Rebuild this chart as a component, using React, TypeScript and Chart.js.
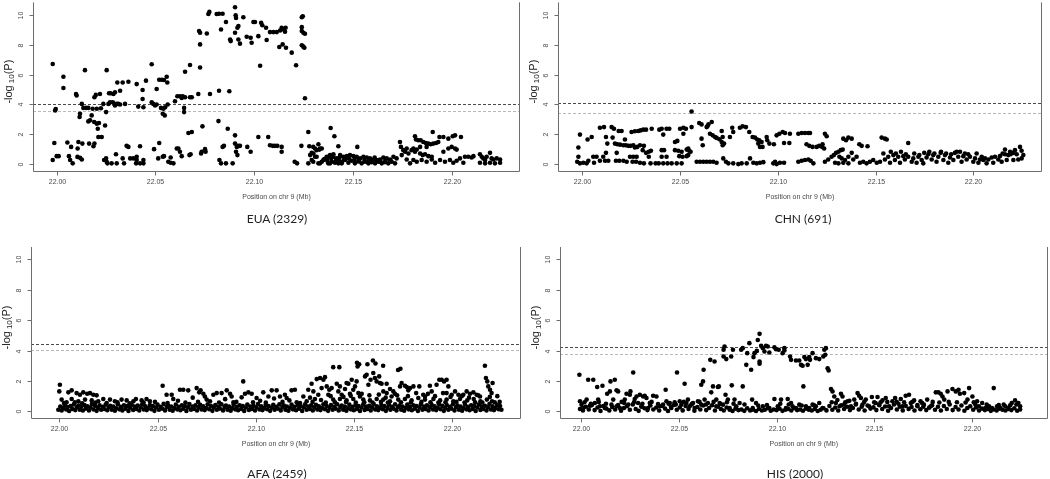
import React, { useEffect, useRef } from "react";
import { Chart, registerables } from "chart.js";

Chart.register(...registerables);

// ---------------- data ----------------
const REGION_START_MB = 22.0; // positions below are kb offsets from 22.000 Mb
const xTickValues = [22.0, 22.05, 22.1, 22.15, 22.2];
const yTickValues = [0, 2, 4, 6, 8, 10];
const xAxisTitle = "Position on chr 9 (Mb)";
const panelTitles = ["EUA (2329)", "CHN (691)", "AFA (2459)", "HIS (2000)"];

// [dark threshold, light threshold] in -log10(P)
const euaThresholds = [4.04, 3.58];
const chnThresholds = [4.1, 3.42];
const afaThresholds = [4.42, 4.05];
const hisThresholds = [4.22, 3.79];

// [kb offset, -log10(P)]
const euaSnps = [
[-2,6.7],[-0.8,3.6],[-0.5,3.7],[-1.2,1.43],[-2,0.29],[0,0.55],[1,0.55],
[3.4,5.85],[3.4,5.1],[5.4,1.46],[6.2,0.55],[6.8,0.29],[8.1,0.07],[7.3,1.17],
[9.8,4.7],[10.1,4.6],[11,1.5],[10.6,1.06],[10.5,0.5],[11.8,0.44],[12.7,0.33],
[11.8,3.38],[11.6,3.16],[12.7,4.04],[13.5,3.77],[14.3,6.29],[14.9,3.77],[16,3.77],
[13,1.39],[16.4,1.39],[18.6,1.21],[19.1,1.39],
[16,2.87],[16.9,2.94],[17.7,3.27],[18.2,3.71],[19.1,4.48],[19.8,4.64],[20.3,3.71],
[19,2.83],[20.3,2.72],[20.8,2.38],[21.4,2.76],[21.9,4.7],[22.4,3.75],[21.1,1.83],[22.8,1.83],
[23.6,4.04],[24.5,2.6],[24,0.29],[25,0.4],[25.3,0.18],[25.7,0.07],[25.3,6.29],[25,3.49],
[26.5,4.75],[27.3,4.75],[28.7,4.7],[29.5,4.81],[26.2,4.04],[27,4.15],[28.4,4.15],[29.2,4.04],[29.5,3.93],
[27.8,0.07],[30,0.68],[30.4,0.07],
[30.7,5.47],[32.1,4.92],[33.4,5.47],[36.3,5.52],[30.4,4.04],[31.2,4.04],[32.1,4.0],[34.6,4.04],
[35.4,1.24],[36.3,1.17],[33.4,0.4],[34.1,0.07],[37.2,0.4],[38.8,0.4],[40.5,0.51],[42.2,1.21],[40.5,0.29],[40.2,0.07],[43.9,0.29],[43.9,0.07],[42.2,0.07],
[40.5,5.36],[43.5,4.97],[45.2,5.59],[43.5,4.37],[41.3,3.86],[43.9,3.82],
[48.1,6.69],[48.9,4.04],[48.1,4.15],[49.8,3.93],[50.6,4.0],[50.6,5.03],
[49.3,1.02],[51.9,1.43],[51.4,0.4],[53.7,0.51],[54.3,0.55],
[51.9,5.65],[53.2,5.65],[54.3,5.63],[55.7,5.85],[56,5.47],
[52.8,3.77],[54,3.71],[54.9,3.82],[56.2,4.0],[53.7,3.38],[54.7,3.27],
[56.5,0.18],[57.7,0.11],[59.1,0.07],[57.7,0.46],
[59.9,4.22],[61.1,4.55],[62.4,4.55],[63.8,4.55],[63.3,4.44],[65,4.48],[67.5,4.48],[68.4,4.48],
[64.5,3.77],[64.5,3.49],[65,6.18],[67.5,6.64],
[60.8,1.06],[61.6,1.06],[62.4,0.84],[63.3,0.55],[66.7,2.1],[68.4,2.16],[67.2,0.62],[67.8,0.68],
[71.7,4.7],[72.6,6.47],[72.6,8.01],[72.1,8.9],[72.6,8.79],[73.8,2.54],
[73.4,0.84],[75.1,1.02],[75.4,0.84],[73.1,0.73],
[76.8,10.04],[77.3,10.18],[76,8.74],[77.6,4.7],
[81,10.04],[82.2,10.06],[84,10.06],[83.2,9.0],[85.7,9.51],[82.2,4.92],[87.4,4.88],
[81.9,2.89],[86.6,2.38],[82.4,0.29],[83.2,0.07],[84,1.17],[84.7,1.24],[85.7,0.07],[89.1,0.07],
[87.8,8.34],[88.1,8.23],[90.3,10.49],[90.6,9.96],[90.8,9.78],[90.3,8.79],[91.5,9.12],[92,9.23],[92,8.34],[92.8,8.06],
[94.5,9.82],[96.2,8.52],[98.2,8.45],[98.7,8.12],[99.6,9.51],[100.4,9.51],[102.1,8.56],[103.5,9.45],[104.1,9.29],
[106,9.12],[106.3,8.3],[108,8.83],[109.7,8.83],[111.4,8.83],[113.1,8.94],[113.9,9.12],[114.8,9.0],[115.9,9.12],[115.6,8.85],
[112.7,7.84],[114.4,8.01],[116.1,7.79],[119,7.46],[121.2,6.62],[103,6.58],
[90.3,1.94],[90.3,1.39],[91.2,1.17],[92,1.24],[92.8,1.24],[90.8,0.84],[91.5,0.62],[96.5,1.17],[98.2,0.84],
[102.1,1.83],[107.1,1.83],[108,1.28],[109.4,1.24],[110.5,1.24],[111.7,1.24],[113.9,1.17],[113.9,0.84],[120.5,0.18],[121.7,0.07],[123.9,1.24],
[124.1,9.82],[124.6,9.89],[124.1,9.16],[124.1,8.9],[124.9,8.79],[125.7,8.72],[124.1,7.95],[124.9,7.86],[125.4,7.79],[125.7,4.42],
[127.4,2.16],[127.9,1.21],[127.4,0.07],[128.3,0.62],[129.1,0.77],[129.9,1.17],[130.8,0.51],[131.6,0.95],[132.5,1.35],[133,0.99],
[134.2,1.06],[133.3,0.07],[129.9,0.18],[135,0.29],[138.7,2.43],[140.6,1.88],[142.6,1.21],[137.6,0.51],[140.1,0.51],[141.8,0.4],
[143.5,0.62],[145.1,0.51],[146.8,0.46],[138.4,0.07],[141,0.18],[142.6,0.07],[144.3,0.18],[146,0.29],[147.7,0.11],
[130,0.73],[130.8,1.06],[133.3,1.06],[131.6,0.51],[129.1,0.29],[132.5,0.07],[134.2,0.18],
[136.7,0.51],[138.4,0.62],[140.1,0.68],[143.5,0.55],[146.8,0.55],[148.5,0.62],[150.2,0.55],[151.9,0.51],[153.6,0.4],[155.3,0.51],
[157,0.46],[158.6,0.4],[160.3,0.33],[162,0.29],[163.7,0.33],[165.4,0.46],[167.1,0.4],[168.8,0.33],[170.5,0.51],[172.1,0.4],
[137.5,0.07],[139.2,0.18],[140.9,0.11],[142.6,0.24],[144.3,0.07],[149.4,0.24],[151,0.07],[152.7,0.2],[154.4,0.07],[156.1,0.18],
[157.8,0.07],[159.5,0.15],[161.2,0.07],[162.9,0.18],[164.6,0.07],[166.2,0.15],[167.9,0.07],[169.6,0.18],[171.3,0.07],
[135.5,0.35],[137,0.25],[139,0.4],[141.5,0.3],[143,0.42],[145.5,0.3],[148,0.38],[150.8,0.3],[153,0.3],[155.8,0.3],[158,0.25],[161,0.45],[164,0.2],[166.5,0.3],[169,0.25],
[152.2,1.17],
[173.8,1.5],[174.3,1.17],[175.5,0.95],[176.4,0.84],[174.7,0.62],[177.2,1.06],[178.1,0.73],[177.2,0.33],[178.9,0.07],
[181.4,1.88],[181.9,1.66],[183.1,1.61],[184.3,1.61],[185.6,1.5],[186.9,1.43],[188.2,1.39],[189.4,1.35],[190.7,1.39],[192.1,1.43],[193.2,1.5],[190.4,2.16],[193.8,1.83],
[179.7,0.95],[180.6,1.06],[181.4,0.84],[182.3,0.99],[184,0.73],[185.3,0.62],[186.5,0.68],[188.2,0.55],[189.9,0.51],[184,1.17],[187.3,1.17],[195.8,0.84],
[195.8,1.83],[198.3,1.72],[200.5,1.88],[201.7,1.94],[204.7,1.83],[200,1.17],[201.7,1.06],[202.5,0.99],[198.3,1.06],
[180.6,0.29],[182.3,0.18],[184.8,0.29],[187.3,0.18],[189.9,0.33],[191.6,0.11],[194.1,0.29],[196.6,0.18],[199.1,0.29],[200.8,0.11],
[202.5,0.24],[204.2,0.4],[205.9,0.11],[206.7,0.51],[208.4,0.51],[210.1,0.46],[211,0.55],
[214.3,0.68],[215.2,0.51],[216,0.4],[216.9,0.29],[217.7,0.51],[219.4,0.77],[220.2,0.4],[221.1,0.33],[222.8,0.4],[224.5,0.33],
[214.3,0.11],[216.9,0.07],[219.4,0.11],[221.9,0.07],[224.5,0.11]
];

const chnSnps = [
[-2,1.13],[-1.2,1.99],[-2,0.51],[-2.6,0.18],[-1.2,0.07],[0.5,0.11],[2.2,0.07],
[2.7,1.66],[4.8,1.83],[3.1,0.24],[5.6,0.51],[7.3,0.51],[6,0.11],
[9,2.45],[11.1,2.49],[12.1,1.83],[12.8,1.39],[12.1,0.77],[9,0.24],[11.6,0.24],[13.3,0.24],[10.7,0.51],
[15,2.49],[16.2,2.38],[15.5,1.79],[16.7,1.39],[17.9,1.35],[19.3,1.32],[17.6,0.77],[17.2,0.24],[18.9,0.24],
[18.6,2.23],[20.1,2.23],[21.8,1.66],[21,1.28],[22.3,1.28],[23.5,1.24],[24.7,1.24],[26.1,1.28],[26.9,1.13],
[21,0.24],[22.7,0.18],[24.4,0.51],[26.1,0.51],[27.8,0.51],[25.7,0.18],[27.5,0.18],
[25.2,2.16],[26.9,2.21],[28.6,2.23],[29.8,2.27],[31.2,2.32],[32.6,2.32],[35.5,2.38],
[28.1,1.17],[29.5,1.28],[30.9,0.95],[32.6,0.77],[31.5,1.24],[34,0.84],[35.1,0.91],
[29.5,0.11],[31.5,0.07],[34,0.51],[34.9,0.07],[37.5,0.07],[39.1,0.07],[41.4,0.07],[43.6,0.07],[45.7,0.07],[48.3,0.07],[50.8,0.07],
[39.4,2.32],[41.4,1.99],[40.6,2.38],[43.1,2.38],[44.5,2.38],[40.6,0.95],[41.8,0.95],[43.1,0.51],[40.6,0.51],
[47.4,1.5],[48.6,1.57],[47.4,0.95],[49.1,0.91],[50.8,0.84],[49.6,0.55],[51.3,0.51],[50,2.38],[51.7,2.45],[53,2.38],[51.7,2.05],
[53.4,0.99],[54.2,1.06],[54.7,0.91],[55.4,0.84],[54.2,0.62],[53.4,0.55],[55.9,2.49],[55.9,3.53],
[59.8,2.76],[61,2.67],[61,1.72],[61.6,1.28],[63.6,2.49],[64.5,2.67],[66.2,2.83],[64,2.54],
[58.5,0.18],[60.2,0.18],[61.9,0.18],[63.6,0.18],[65.3,0.18],[67,0.18],[68.7,0.11],
[65.3,2.05],[66.7,1.94],[67.9,1.83],[68.7,1.77],[70.1,1.68],[71.3,1.5],[71.8,1.28],[71.3,2.23],[71.8,1.83],[72.5,1.39],[72.1,0.4],
[73.5,0.18],[74.7,0.07],[77.2,0.07],[79.8,0.02],[81.5,0.07],[84.1,0.07],[85.8,0.4],[87.5,0.11],[89.2,0.07],[90.9,0.11],[92.6,0.15],
[75.5,1.83],[76.7,2.45],[77.2,2.16],[80.6,2.45],[82,2.54],[83.7,2.49],[85.4,2.16],[87.1,1.83],[88.3,1.79],[89.5,1.66],[90.5,1.61],
[90,1.39],[90.9,1.17],[92.2,1.17],[91.7,1.5],[94.3,1.83],[94.6,1.61],[95.7,1.39],[98,1.35],
[98.6,0.18],[97.7,0.07],[99.4,0.02],[101.1,0.11],[103.2,0.11],
[99.4,1.94],[100.8,2.05],[102.5,2.16],[103.7,2.1],[106.2,2.05],[103.2,1.43],[105.9,1.43],
[110.5,0.18],[112.2,0.24],[113.9,0.29],[115.6,0.33],[116.8,0.24],[118.2,0.07],
[110.5,2.05],[112.2,2.1],[113.9,2.1],[115.6,2.1],[116.5,2.1],[114.7,1.35],[116.1,1.24],[117.8,1.17],[119.9,1.17],[121.2,1.24],
[122.9,1.35],[124.1,2.05],[125,1.88],[122.7,1.17],[123.7,1.06],
[124.1,0.18],[125.8,0.33],[127.5,0.51],[128.7,0.62],[129.8,0.77],[131,0.84],[132.2,0.95],[133.2,0.99],[131.5,0.51],[132.7,0.4],
[134.4,0.29],[136.1,0.51],[137.8,0.77],[129.3,0.11],[131,0.07],[133.5,0.11],[136.1,0.07],
[133.5,1.72],[134.9,1.61],[136.1,1.79],[137.8,1.72],[141.7,1.35],[142.9,1.24],[145.9,1.21],
[138.6,0.33],[140.3,0.51],[142,0.11],[143.7,0.18],[145.4,0.07],[147.1,0.18],[148.8,0.29],[150.6,0.11],[152.3,0.18],[154,0.73],[154.8,0.33],[156.5,0.51],
[153.1,1.79],[154.8,1.72],[155.7,1.66],
[157.4,0.11],[159.1,0.62],[159.9,0.29],[161.6,0.51],[162.5,0.11],[164.2,0.55],[165,0.33],[166.7,1.43],[166.7,0.51],[168.5,0.18],
[169.3,0.4],[171,0.11],[171.9,0.51],[173.6,0.29],[174.4,0.07],[176.1,0.46],[177,0.68],[178.7,0.33],[179.5,0.62],[181.2,0.18],
[182.1,0.51],[183.3,0.77],[184.7,0.29],[185.5,0.62],[187.2,0.11],[188.1,0.46],[189.8,0.29],[191.5,0.84],[192.3,0.51],[194,0.18],
[194.9,0.55],[196.6,0.33],[198.3,0.51],[200,0.18],[200.9,0.4],[202.6,0.11],[203.4,0.33],[205.1,0.29],[206,0.4],[207.7,0.33],
[209.4,0.46],[211.1,0.51],[212.8,0.33],[213.6,0.55],[215,0.73],[216.2,0.68],[217.9,0.62],[219.1,0.68],[220.5,0.77],[222.2,0.68],
[223.9,1.17],[224.7,0.91],[225.6,0.62],[223,0.33],[224.7,0.4],
[157.8,0.84],[160.4,0.73],[163,0.84],[165.5,0.68],[169.8,0.73],[172.4,0.62],[174.9,0.77],[177.5,0.84],[180.1,0.73],[183.5,0.84],
[186.1,0.73],[188.7,0.68],[190.6,0.77],[193.2,0.84],[195.7,0.73],[197.4,0.68],[201.7,0.73],[204.3,0.51],[216.2,0.99],[218.8,0.84],
[221.3,0.95],[220.5,0.29],[217.1,0.29],[214.5,0.18],[210.2,0.11],[206.8,0.07]
];

const afaSnps = [
[0.3,1.75],[0,1.31],[4.6,1.25],[6.3,1.38],[8.8,1.2],[10.5,1.09],[12.2,1.25],[14.2,1.16],[15.6,1.2],[17.3,1.09],[19,1.05],
[1.2,0.77],[3.7,0.59],[6.3,0.81],[9.7,0.66],[13.1,0.77],[16.5,0.72],[19.8,0.66],[22.4,0.81],[25.8,0.77],[28.3,0.66],
[31.7,0.77],[34.3,0.72],[37.7,0.66],[39,0.81],[41.9,0.72],[44.4,0.81],[46.1,0.66],
[52.6,1.68],[54.6,1.09],[57.2,1.09],[58,0.81],[61.4,1.42],[63.1,1.42],[65.6,1.38],[69.9,1.53],[71.2,1.25],[71.9,1.38],
[73.3,1.16],[74.1,0.98],[75,0.77],[78.4,1.09],[80.1,1.2],[82.6,1.2],[85.2,1.38],[86.9,1.16],[87.7,0.98],[88.6,0.59],
[93.6,1.97],[94.5,1.16],[96.2,1.25],[97.9,1.16],[100.4,0.88],[103.8,1.25],[106.4,0.98],[108.1,1.38],[110.6,1.38],
[112.3,0.98],[114.8,1.09],[115.7,0.88],[118.2,1.38],[119.9,1.42],
[124.2,0.98],[126.7,1.42],[128.4,1.82],[129.3,1.31],[131,2.12],[132.7,2.19],[134.4,2.08],[135.2,2.25],[133.5,1.53],[130.1,0.81],
[131.8,1.09],[136.1,1.64],[137.4,1.42],[136.9,1.09],[138.6,1.53],
[139.4,2.91],[142.5,2.91],[141.2,1.82],[142,1.31],[142.8,1.64],[143.7,1.09],[145.4,1.47],[146.2,1.86],[147.1,1.82],[148.8,2.08],
[147.9,1.16],[149.6,1.42],[151.5,3.2],[151.8,2.95],[152.6,3.1],[150.5,1.64],[151.3,1.97],[152.2,1.2],[153,0.98],
[156.8,3.1],[159.6,3.35],[160.9,3.15],[155.6,2.3],[156.4,2.41],[157.3,1.75],[158.4,2.08],[159.8,2.52],[160.6,2.19],[161.5,1.97],
[164.8,3.0],[162.8,2.3],[163.2,1.86],[164,1.82],[164.9,1.31],[166.6,1.82],[172.4,2.72],[173.6,2.8],[166.6,1.2],[168.3,1.47],
[170,1.31],[170.8,1.16],[169.1,0.98],
[173.4,1.64],[174.2,1.86],[175.9,1.68],[176.8,1.6],[177.6,1.38],[178.5,1.53],[180.2,1.64],[183.2,1.64],[185.2,1.09],[186.1,0.98],
[188.6,1.68],[189.5,1.31],[192,1.75],[193.4,2.08],[194.6,2.08],[195.8,1.97],[197.1,2.08],[198,1.64],[197.1,1.2],[199.7,1.09],
[201.4,1.31],[203.1,1.09],[205.6,1.09],[207.3,1.31],[209,1.16],[210.7,1.25],[212.4,1.09],[214.1,0.98],[216.6,3.0],[217.1,2.19],
[217.8,1.97],[218.3,1.64],[219.2,1.42],[220,1.2],[220.5,1.86],
[122.5,0.55],[125.9,0.66],[139.4,0.77],[142.8,0.81],[146.2,0.72],[149.6,0.81],[154.7,0.77],[158.1,0.72],[161.5,0.81],[164.9,0.77],
[168.3,0.66],[172.5,0.77],[175.9,0.81],[179.3,0.72],[182.7,0.88],[186.1,0.77],[190.4,0.81],[193.8,0.72],[197.1,0.77],[200.5,0.66],
[203.9,0.81],[207.6,0.72],[210.9,0.81],[214.3,0.66],[217.6,0.77],[220.2,0.66],
[2.4,0.55],[7.9,0.6],[11.6,0.52],[18.4,0.58],[24.1,0.55],[29.6,0.6],[35.8,0.52],[42.9,0.57],[48.7,0.62],[55.1,0.55],
[60.4,0.7],[64.2,0.58],[67.9,0.9],[70.6,0.62],[76.7,0.66],[81.3,0.58],[84.4,0.8],[90.1,0.62],[92.8,0.92],[98.6,0.6],
[102.2,0.7],[105.1,0.58],[109.3,0.84],[113.6,0.62],[117.1,0.72],[120.8,0.6],[127.6,0.9],[128.9,0.62],[133.2,0.75],[135.6,0.58],
[138.1,1.0],[140.3,0.6],[144.6,0.95],[145.9,0.62],[148.3,1.02],[150.9,0.58],[153.9,1.15],[155.2,0.6],[157.8,1.05],[159.4,0.58],
[162.6,1.1],[163.7,0.62],[166.1,0.9],[167.2,0.58],[171.9,1.05],[173.9,0.6],[177.4,1.0],[178.9,0.58],[181.6,1.2],[184.3,0.62],
[187.6,1.15],[188.9,0.6],[191.2,1.0],[192.9,0.58],[195.3,1.2],[196.5,0.6],[199.1,0.95],[202.1,0.62],[204.8,1.0],[206.2,0.58],
[208.5,0.9],[211.6,0.6],[213.2,1.05],[215.3,0.58],[219.1,0.95],[221.6,0.6],[222.9,1.0],[224.1,0.62],
[-0.5,0.1],[0.5,0.32],[1.2,0.05],[2,0.22],[2.8,0.4],[3.5,0.12],[4.3,0.28],[5,0.02],[5.8,0.35],[6.6,0.15],[7.4,0.45],[8.1,0.08],
[8.9,0.25],[9.7,0.38],[10.4,0.1],[11.2,0.3],[12,0.05],[12.8,0.42],[13.5,0.18],[14.3,0.33],[15.1,0.06],[15.9,0.27],[16.6,0.48],
[17.4,0.12],[18.2,0.36],[19,0.03],[19.7,0.22],[20.5,0.4],[21.3,0.1],[22.1,0.3],[22.8,0.15],[23.6,0.44],[24.4,0.07],[25.2,0.26],
[25.9,0.37],[26.7,0.11],[27.5,0.32],[28.3,0.04],[29,0.2],[29.8,0.46],[30.6,0.13],[31.4,0.29],[32.1,0.06],[32.9,0.39],[33.7,0.17],
[34.5,0.34],[35.2,0.02],[36,0.24],[36.8,0.43],[37.6,0.09],[38.3,0.31],[39.1,0.16],[39.9,0.38],[40.7,0.05],[41.4,0.27],[42.2,0.47],
[43,0.12],[43.8,0.33],[44.5,0.08],[45.3,0.21],[46.1,0.41],[46.9,0.14],[47.6,0.35],[48.4,0.03],[49.2,0.25],[50,0.44],[50.7,0.1],
[51.5,0.3],[52.3,0.18],[53.1,0.49],[53.8,0.06],[54.6,0.28],[55.4,0.37],[56.2,0.11],[56.9,0.32],[57.7,0.04],[58.5,0.23],[59.3,0.45],
[60,0.13],[60.8,0.3],[61.6,0.07],[62.4,0.4],[63.1,0.17],[63.9,0.34],[64.7,0.02],[65.5,0.26],[66.2,0.48],[67,0.1],[67.8,0.31],
[68.6,0.15],[69.3,0.39],[70.1,0.05],[70.9,0.27],[71.7,0.43],[72.4,0.12],[73.2,0.33],[74,0.08],[74.8,0.22],[75.5,0.46],[76.3,0.14],
[77.1,0.36],[77.9,0.03],[78.6,0.24],[79.4,0.41],[80.2,0.1],[81,0.3],[81.7,0.18],[82.5,0.47],[83.3,0.06],[84.1,0.28],[84.8,0.38],
[85.6,0.11],[86.4,0.32],[87.2,0.04],[87.9,0.2],[88.7,0.44],[89.5,0.13],[90.3,0.29],[91,0.07],[91.8,0.4],[92.6,0.16],[93.4,0.34],
[94.1,0.02],[94.9,0.25],[95.7,0.45],[96.5,0.09],[97.2,0.31],[98,0.15],[98.8,0.37],[99.6,0.05],[100.3,0.27],[101.1,0.48],[101.9,0.12],
[102.7,0.33],[103.4,0.08],[104.2,0.21],[105,0.42],[105.8,0.14],[106.5,0.35],[107.3,0.03],[108.1,0.24],[108.9,0.43],[109.6,0.1],
[110.4,0.3],[111.2,0.18],[112,0.46],[112.7,0.06],[113.5,0.28],[114.3,0.38],[115.1,0.11],[115.8,0.32],[116.6,0.04],[117.4,0.23],
[118.2,0.44],[118.9,0.13],[119.7,0.3],[120.5,0.07],[121.3,0.4],[122,0.17],[122.8,0.34],[123.6,0.02],[124.4,0.26],[125.1,0.47],
[125.9,0.1],[126.7,0.31],[127.5,0.15],[128.2,0.39],[129,0.05],[129.8,0.27],[130.6,0.43],[131.3,0.12],[132.1,0.33],[132.9,0.08],
[133.7,0.22],[134.4,0.46],[135.2,0.14],[136,0.36],[136.8,0.03],[137.5,0.24],[138.3,0.41],[139.1,0.1],[139.9,0.3],[140.6,0.18],
[141.4,0.47],[142.2,0.06],[143,0.28],[143.7,0.38],[144.5,0.11],[145.3,0.32],[146.1,0.04],[146.8,0.2],[147.6,0.44],[148.4,0.13],
[149.2,0.29],[149.9,0.07],[150.7,0.4],[151.5,0.16],[152.3,0.34],[153,0.02],[153.8,0.25],[154.6,0.45],[155.4,0.09],[156.1,0.31],
[156.9,0.15],[157.7,0.37],[158.5,0.05],[159.2,0.27],[160,0.48],[160.8,0.12],[161.6,0.33],[162.3,0.08],[163.1,0.21],[163.9,0.42],
[164.7,0.14],[165.4,0.35],[166.2,0.03],[167,0.24],[167.8,0.43],[168.5,0.1],[169.3,0.3],[170.1,0.18],[170.9,0.46],[171.6,0.06],
[172.4,0.28],[173.2,0.38],[174,0.11],[174.7,0.32],[175.5,0.04],[176.3,0.23],[177.1,0.44],[177.8,0.13],[178.6,0.3],[179.4,0.07],
[180.2,0.4],[180.9,0.17],[181.7,0.34],[182.5,0.02],[183.3,0.26],[184,0.47],[184.8,0.1],[185.6,0.31],[186.4,0.15],[187.1,0.39],
[187.9,0.05],[188.7,0.27],[189.5,0.43],[190.2,0.12],[191,0.33],[191.8,0.08],[192.6,0.22],[193.3,0.46],[194.1,0.14],[194.9,0.36],
[195.7,0.03],[196.4,0.24],[197.2,0.41],[198,0.1],[198.8,0.3],[199.5,0.18],[200.3,0.47],[201.1,0.06],[201.9,0.28],[202.6,0.38],
[203.4,0.11],[204.2,0.32],[205,0.04],[205.7,0.2],[206.5,0.44],[207.3,0.13],[208.1,0.29],[208.8,0.07],[209.6,0.4],[210.4,0.16],
[211.2,0.34],[211.9,0.02],[212.7,0.25],[213.5,0.45],[214.3,0.09],[215,0.31],[215.8,0.15],[216.6,0.37],[217.4,0.05],[218.1,0.27],
[218.9,0.48],[219.7,0.12],[220.5,0.33],[221.2,0.08],[222,0.21],[222.8,0.42],[223.6,0.14],[224.3,0.35],[225,0.1]
];

const hisSnps = [
[-0.8,2.41],[-0.5,0.66],[0.3,0.44],[1.2,0.22],[2.9,0.77],[3.7,2.08],[6.3,2.08],[4.6,0.37],[7.1,0.55],[8.8,0.77],[8.3,1.6],[11,1.68],
[9.7,0.33],[12.2,0.22],[13.4,1.16],[14.8,1.31],[15.1,1.97],[17.3,2.08],[18.2,1.38],[19,1.31],[16.5,0.77],[15.6,0.44],[18.2,0.33],
[19.9,0.22],[22.1,0.55],[23.3,1.16],[22.4,0.77],[25,1.09],[25.3,1.31],[26.7,2.56],[27.5,0.81],[28.4,0.98],[29.2,0.55],[30.1,1.09],
[31.8,0.98],[32.6,1.03],[33.5,0.88],[30.9,0.33],[34.3,0.22],[35.2,0.55],[36.9,1.03],[38.6,0.98],[40.3,0.33],[42,0.44],[43.3,1.42],
[43.7,0.66],[45.4,0.55],[46.2,0.22],[47.9,0.59],[49.1,2.56],[50.5,0.66],[51.3,0.44],[53,1.82],[53.9,0.55],[54.7,0.77],[55.6,0.33],
[57.3,0.55],[58.1,0.22],[59.8,0.66],[61.5,1.75],[62.4,1.97],[62.7,2.74],[61.5,0.44],[63.2,0.77],[64.9,0.55],[66.1,3.39],[66.6,1.25],
[67.5,1.64],[68.3,3.28],[69.2,0.77],[70,1.6],[70.5,1.64],[69.2,0.33],[70.9,0.55],
[72.9,3.61],[72.9,4.05],[73.4,4.27],[74.3,3.44],[73.9,1.09],[75.1,0.77],[76,0.22],[76.8,3.61],[77.7,4.05],[77.1,1.71],[78.5,0.77],
[79.4,0.33],[81.9,4.05],[82.7,4.16],[82.7,1.64],[84.5,3.06],[85,3.83],[86.1,4.49],[87,2.74],[87.5,0.77],[88.2,3.57],[88.7,3.83],
[89.9,3.98],[90.4,4.7],[91.3,5.1],[91.3,3.28],[91.3,3.13],[92.1,4.31],[93,4.16],[93.8,3.94],[94.6,4.31],[95.5,4.27],[96.3,3.87],
[98.9,4.22],[99.7,4.09],[101.1,4.05],[103.1,3.83],[104,4.16],[104,4.0],[106.9,3.61],[107.4,3.39],[109.9,3.35],[111.6,3.35],
[112.5,3.06],[113.3,3.0],[114.2,3.57],[115,3.44],[115.9,3.06],[116.7,3.57],[117.1,3.39],[118.4,3.83],[120.1,3.5],[121.8,3.44],
[123.9,3.61],[124.4,4.05],[125.2,4.16],[124.9,3.72],[126.1,2.84],[126.6,2.69],[113.7,1.64],
[72.6,0.44],[81.1,0.55],[87.8,0.22],[89.5,0.55],[93,0.33],[96.3,0.22],[98.9,0.81],[100.6,0.33],[102.3,0.77],[104.8,0.22],
[105.7,0.81],[107.4,0.55],[108.2,0.33],[109.9,0.22],[111.6,0.44],[115,0.33],[116.7,0.22],[118.4,0.44],[120.1,0.33],[121.8,0.55],[123.5,0.22],
[127.8,1.47],[128.6,1.31],[129.5,0.98],[130.3,0.55],[132.9,1.16],[133.7,0.98],[132.2,0.33],[134.6,0.44],[136.3,0.66],[138,0.33],
[139.7,0.77],[141.4,1.2],[142.2,1.03],[143.1,0.88],[143.9,0.44],[145.6,0.77],[147.3,0.33],[148.7,0.94],[149.9,0.59],[151.6,0.94],
[152.4,0.44],[154.1,0.72],[155.8,0.88],[157.5,0.33],[159.2,0.66],[160.6,0.88],[162.3,0.5],[163.5,0.81],[164.3,0.33],[166,1.03],
[167.7,1.09],[168.6,0.55],[170.3,0.72],[172,0.33],[173.6,0.66],[175.3,0.44],[177,0.77],[178.8,0.33],[181.4,1.25],[182.7,1.25],
[183.9,1.16],[184.8,0.98],[185.7,0.77],[187.4,1.31],[189.9,1.47],[191.6,1.31],[193,1.42],[193.7,1.16],[195.9,1.2],[198.4,1.53],
[197.6,0.77],[200.1,0.98],[200.8,0.59],[202.5,0.66],[203.4,0.33],[205.1,0.55],[206.8,0.22],[208.6,0.33],[211,1.53],[210.1,0.22],
[212.7,0.33],[214.4,0.22],[216.9,0.33],[218.6,0.22],[220.2,0.55],[221.9,0.72],[223.6,0.55],[224.5,0.33],[216.1,0.44],
[1.8,0.6],[5.1,0.5],[9.1,0.62],[12.8,0.5],[20.8,0.62],[24.2,0.45],[27.1,0.6],[31.4,0.5],[36.1,0.62],[39.4,0.48],
[44.8,0.5],[48.5,0.45],[52.6,0.62],[56.8,0.5],[60.6,0.62],[63.9,0.45],[67.8,0.62],[71.2,0.48],[74.6,0.6],[78,0.5],
[83.6,0.45],[90.6,0.38],[95.1,0.42],[101.9,0.5],[106.2,0.45],[112.8,0.38],[119.2,0.4],[128.2,0.6],[131.1,0.75],[135.1,0.6],
[137.2,0.7],[140.6,0.5],[144.8,0.62],[150.6,0.55],[153.2,0.6],[156.6,0.62],[161.4,0.62],[165.2,0.6],[169.4,0.62],[174.4,0.55],
[179.8,0.62],[183.2,0.58],[188,0.62],[192.2,0.6],[196.6,0.58],[201.6,0.45],[207.4,0.45],[213.6,0.42],[219.4,0.4],[222.6,0.45],
[-0.5,0.15],[1,0.05],[2.5,0.3],[4,0.12],[5.5,0.4],[7,0.08],[8.5,0.25],[10,0.02],[11.5,0.35],[13,0.18],[14.5,0.06],[16,0.28],
[17.5,0.12],[19,0.42],[20.5,0.04],[22,0.22],[23.5,0.33],[25,0.1],[26.5,0.45],[28,0.15],[29.5,0.03],[31,0.3],[32.5,0.2],[34,0.08],
[35.5,0.38],[37,0.12],[38.5,0.25],[40,0.05],[41.5,0.36],[43,0.18],[44.5,0.02],[46,0.3],[47.5,0.42],[49,0.1],[50.5,0.25],[52,0.06],
[53.5,0.35],[55,0.15],[56.5,0.45],[58,0.04],[59.5,0.28],[61,0.12],[62.5,0.38],[64,0.08],[65.5,0.22],[67,0.4],[68.5,0.05],[70,0.3],
[71.5,0.15],[73,0.05],[74.5,0.25],[76,0.1],[77.5,0.02],[79,0.18],[80.5,0.08],[82,0.12],[83.5,0.03],[85,0.2],[86.5,0.06],[88,0.1],
[89.5,0.02],[91,0.15],[92.5,0.05],[94,0.1],[95.5,0.2],[97,0.04],[98.5,0.12],[100,0.08],[101.5,0.18],[103,0.03],[104.5,0.1],[106,0.15],
[107.5,0.05],[109,0.2],[110.5,0.08],[112,0.12],[113.5,0.04],[115,0.18],[116.5,0.1],[118,0.05],[119.5,0.15],[121,0.02],[122.5,0.1],
[124,0.2],[125.5,0.06],[127,0.35],[128.5,0.1],[130,0.25],[131.5,0.05],[133,0.4],[134.5,0.15],[136,0.3],[137.5,0.08],[139,0.22],
[140.5,0.45],[142,0.12],[143.5,0.3],[145,0.05],[146.5,0.38],[148,0.18],[149.5,0.26],[151,0.08],[152.5,0.4],[154,0.15],[155.5,0.32],
[157,0.04],[158.5,0.22],[160,0.45],[161.5,0.12],[163,0.3],[164.5,0.06],[166,0.36],[167.5,0.16],[169,0.28],[170.5,0.05],[172,0.42],
[173.5,0.14],[175,0.3],[176.5,0.08],[178,0.24],[179.5,0.4],[181,0.1],[182.5,0.3],[184,0.05],[185.5,0.35],[187,0.15],[188.5,0.45],
[190,0.08],[191.5,0.28],[193,0.12],[194.5,0.38],[196,0.04],[197.5,0.22],[199,0.33],[200.5,0.1],[202,0.25],[203.5,0.05],[205,0.18],
[206.5,0.08],[208,0.15],[209.5,0.03],[211,0.12],[212.5,0.06],[214,0.18],[215.5,0.1],[217,0.05],[218.5,0.15],[220,0.08],[221.5,0.2],
[223,0.04],[224.5,0.12]
];

// ---------------- layout ----------------
const Y_MIN = -0.44;
const Y_MAX = 10.82;

type Box = { left: number; top: number; width: number; height: number };
type Area = { left: number; top: number; right: number; bottom: number };
type PanelSpec = {
  title: string;
  snps: number[][];
  thresholds: number[];
  canvas: Box;
  area: Area;
  xMin: number;
  xMax: number;
  titleX: number;
  titleY: number;
};

const panels: PanelSpec[] = [
  { title: panelTitles[0], snps: euaSnps, thresholds: euaThresholds,
    canvas: { left: 0, top: 0, width: 524, height: 236 }, area: { left: 33, top: 1, right: 520, bottom: 171 },
    xMin: 21.988, xMax: 22.23458, titleX: 277, titleY: 218 },
  { title: panelTitles[1], snps: chnSnps, thresholds: chnThresholds,
    canvas: { left: 524, top: 0, width: 526, height: 236 }, area: { left: 558, top: 1, right: 1042, bottom: 171 },
    xMin: 21.98757, xMax: 22.23514, titleX: 803, titleY: 218 },
  { title: panelTitles[2], snps: afaSnps, thresholds: afaThresholds,
    canvas: { left: 0, top: 236, width: 524, height: 243 }, area: { left: 31, top: 247, right: 521, bottom: 418 },
    xMin: 21.9856, xMax: 22.23496, titleX: 277, titleY: 473 },
  { title: panelTitles[3], snps: hisSnps, thresholds: hisThresholds,
    canvas: { left: 524, top: 236, width: 526, height: 243 }, area: { left: 560, top: 247, right: 1049, bottom: 418 },
    xMin: 21.98929, xMax: 22.23859, titleX: 795, titleY: 473 },
];

const SANS = "'Liberation Sans', Arial, sans-serif";

function decorPlugin(p: PanelSpec) {
  return {
    id: "manhattanDecor",
    beforeDatasetsDraw(chart: any) {
      const { ctx, chartArea: a, scales } = chart;
      ctx.save();
      ctx.lineWidth = 1;
      ctx.setLineDash([3, 2]);
      p.thresholds.forEach((t: number, i: number) => {
        const py = Math.round(scales.y.getPixelForValue(t)) + 0.5;
        ctx.strokeStyle = i === 0 ? "#4a4a4a" : "#b8b8b8";
        ctx.beginPath();
        ctx.moveTo(a.left, py);
        ctx.lineTo(a.right, py);
        ctx.stroke();
      });
      ctx.restore();
    },
    afterDraw(chart: any) {
      const { ctx, chartArea: a, scales } = chart;
      const x = scales.x, y = scales.y;
      const L = Math.round(a.left) + 0.5;
      const R = Math.round(a.right) - 0.5;
      const B = Math.round(a.bottom) + 0.5;
      const T = a.top;
      ctx.save();
      ctx.strokeStyle = "#6e6e6e";
      ctx.lineWidth = 1;
      ctx.beginPath();
      ctx.moveTo(L, T); ctx.lineTo(L, B); ctx.lineTo(R, B); ctx.lineTo(R, T);
      ctx.stroke();

      ctx.fillStyle = "#4a4a4a";
      ctx.font = `7px ${SANS}`;
      ctx.textAlign = "center";
      ctx.textBaseline = "middle";
      xTickValues.forEach((v) => {
        const px = Math.round(x.getPixelForValue(v)) + 0.5;
        ctx.beginPath(); ctx.moveTo(px, B); ctx.lineTo(px, B + 4); ctx.stroke();
        ctx.fillText(v.toFixed(2), px, B + 11);
      });
      yTickValues.forEach((v) => {
        const py = Math.round(y.getPixelForValue(v)) + 0.5;
        ctx.beginPath(); ctx.moveTo(L - 4, py); ctx.lineTo(L, py); ctx.stroke();
        ctx.save();
        ctx.translate(L - 12, py);
        ctx.rotate(-Math.PI / 2);
        ctx.fillText(String(v), 0, 0);
        ctx.restore();
      });
      ctx.fillText(xAxisTitle, (a.left + a.right) / 2, B + 26);

      // y-axis title: -log10(P) with subscript
      const big = `11px ${SANS}`, small = `8px ${SANS}`;
      ctx.fillStyle = "#222";
      ctx.save();
      ctx.translate(L - 25, (a.top + a.bottom) / 2 - 5);
      ctx.rotate(-Math.PI / 2);
      ctx.textAlign = "left";
      ctx.textBaseline = "middle";
      ctx.font = big;
      const w1 = ctx.measureText("-log").width;
      const w3 = ctx.measureText("(P)").width;
      ctx.font = small;
      const w2 = ctx.measureText("10").width;
      let sx = -(w1 + 2 + w2 + w3) / 2;
      ctx.font = big; ctx.fillText("-log", sx, 0); sx += w1 + 2;
      ctx.font = small; ctx.fillText("10", sx, 3); sx += w2;
      ctx.font = big; ctx.fillText("(P)", sx, 0);
      ctx.restore();
      ctx.restore();
    },
  };
}

function Panel({ spec }: { spec: PanelSpec }) {
  const ref = useRef<HTMLCanvasElement | null>(null);
  useEffect(() => {
    const canvas = ref.current;
    if (!canvas) return;
    const c = spec.canvas, a = spec.area;
    const chart = new Chart(canvas, {
      type: "scatter",
      data: {
        datasets: [
          {
            data: spec.snps.map(([kb, lp]) => ({ x: REGION_START_MB + kb / 1000, y: lp })),
            pointRadius: 2.3,
            pointHoverRadius: 2.3,
            pointBackgroundColor: "#000",
            pointBorderWidth: 0,
            borderWidth: 0,
            showLine: false,
          },
        ],
      },
      options: {
        animation: false,
        responsive: false,
        events: [],
        layout: {
          padding: {
            left: a.left - c.left,
            top: a.top - c.top,
            right: c.left + c.width - a.right,
            bottom: c.top + c.height - a.bottom,
          },
        },
        scales: {
          x: { type: "linear", display: false, min: spec.xMin, max: spec.xMax },
          y: { type: "linear", display: false, min: Y_MIN, max: Y_MAX },
        },
        plugins: { legend: { display: false }, tooltip: { enabled: false } },
      },
      plugins: [decorPlugin(spec)],
    } as any);
    return () => chart.destroy();
  }, [spec]);

  const c = spec.canvas;
  return (
    <>
      <canvas
        ref={ref}
        width={c.width}
        height={c.height}
        style={{ position: "absolute", left: c.left, top: c.top, width: c.width, height: c.height }}
      />
      <div
        style={{
          position: "absolute",
          left: spec.titleX,
          top: spec.titleY,
          transform: "translate(-50%, -50%)",
          font: "12px Lato, 'Open Sans', sans-serif",
          color: "#222",
          whiteSpace: "nowrap",
        }}
      >
        {spec.title}
      </div>
    </>
  );
}

export default function App() {
  return (
    <div style={{ position: "absolute", left: 0, top: 0, width: 1050, height: 479, background: "#fff", overflow: "hidden" }}>
      {panels.map((p) => (
        <Panel key={p.title} spec={p} />
      ))}
    </div>
  );
}
